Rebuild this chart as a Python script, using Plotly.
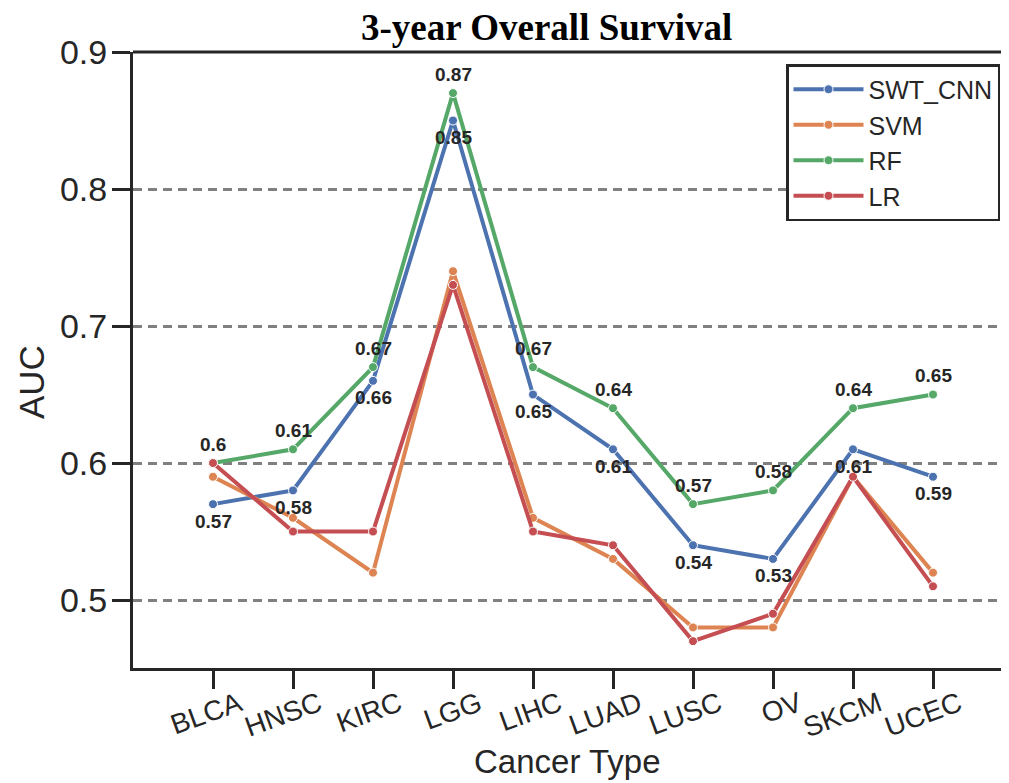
import plotly.graph_objects as go

categories = ["BLCA", "HNSC", "KIRC", "LGG", "LIHC", "LUAD", "LUSC", "OV", "SKCM", "UCEC"]
swt_cnn = [0.57, 0.58, 0.66, 0.85, 0.65, 0.61, 0.54, 0.53, 0.61, 0.59]
svm = [0.59, 0.56, 0.52, 0.74, 0.56, 0.53, 0.48, 0.48, 0.59, 0.52]
rf = [0.60, 0.61, 0.67, 0.87, 0.67, 0.64, 0.57, 0.58, 0.64, 0.65]
lr = [0.60, 0.55, 0.55, 0.73, 0.55, 0.54, 0.47, 0.49, 0.59, 0.51]
y_ticks = [0.5, 0.6, 0.7, 0.8, 0.9]

series = [("SWT_CNN", swt_cnn, "#4C72B0"), ("SVM", svm, "#DD8452"),
          ("RF", rf, "#55A868"), ("LR", lr, "#C44E52")]

# page has an 8px body margin; compensate so the figure lands on the reference pixels
OFF = 8
W, H = 1009 - OFF, 783 - OFF
L, T = 133 - OFF, 52 - OFF
B = H - (668 - OFF)
R = 0
pw = W - L - R
ph = H - T - B


def px(xp):
    return (xp - OFF - L) / pw


def py(yp):
    return (H - B - (yp - OFF)) / ph


fig = go.Figure()
xs = list(range(len(categories)))
for name, vals, col in series:
    fig.add_trace(go.Scatter(
        x=xs, y=vals, name=name, mode="lines+markers",
        line=dict(color=col, width=4),
        marker=dict(size=9, color=col, line=dict(color="white", width=1)),
    ))

ann = []
for i, v in enumerate(rf):
    ann.append(dict(x=i, y=v, xref="x", yref="y", text=f"<b>{v:g}</b>", showarrow=False,
                    yshift=19, font=dict(family="Liberation Sans", size=19, color="#262626")))
for i, v in enumerate(swt_cnn):
    ann.append(dict(x=i, y=v, xref="x", yref="y", text=f"<b>{v:g}</b>", showarrow=False,
                    yshift=-17, font=dict(family="Liberation Sans", size=19, color="#262626")))

ann.append(dict(x=px(546), y=py(27), xref="paper", yref="paper",
                text="<b>3-year Overall Survival</b>", showarrow=False,
                xanchor="center", yanchor="middle",
                font=dict(family="Liberation Serif", size=37, color="black")))
ann.append(dict(x=px(567), y=py(761), xref="paper", yref="paper",
                text="Cancer Type", showarrow=False, xanchor="center", yanchor="middle",
                font=dict(family="Liberation Sans", size=33, color="#262626")))
ann.append(dict(x=px(31), y=py(382), xref="paper", yref="paper",
                text="AUC", showarrow=False, textangle=-90, xanchor="center", yanchor="middle",
                font=dict(family="Liberation Sans", size=35, color="#262626")))

fig.update_layout(
    width=W, height=H,
    margin=dict(l=L, r=R, t=T, b=B, pad=0, autoexpand=False),
    paper_bgcolor="white", plot_bgcolor="white",
    showlegend=True,
    legend=dict(x=px(1000), y=py(64), xanchor="right", yanchor="top",
                bordercolor="#262626", borderwidth=2.5, bgcolor="white",
                font=dict(family="Liberation Sans", size=25, color="#262626"),
                itemwidth=70),
    annotations=ann,
    xaxis=dict(range=[-1, -1 + pw / 80], tickmode="array", tickvals=xs,
               ticktext=categories, tickangle=-20, showgrid=False, zeroline=False,
               showline=True, linecolor="#262626", linewidth=3, automargin=False,
               ticks="outside", ticklen=18, tickwidth=3, tickcolor="#262626",
               ticklabelshift=26, ticklabelstandoff=-12,
               tickfont=dict(family="Liberation Sans", size=28, color="#262626")),
    yaxis=dict(range=[0.4504, 0.9], tickmode="array", tickvals=y_ticks,
               ticktext=[f"{t:g}" for t in y_ticks], automargin=False,
               showgrid=True, gridcolor="#808080", gridwidth=2.5, griddash="9px,6px",
               zeroline=False, showline=True, linecolor="#262626", linewidth=3,
               ticks="outside", ticklen=18, tickwidth=3, tickcolor="#262626",
               ticklabelstandoff=-2,
               tickfont=dict(family="Liberation Sans", size=34, color="#262626")),
    shapes=[dict(type="line", xref="paper", yref="paper", x0=0, x1=1, y0=1, y1=1,
                 line=dict(color="#262626", width=3), layer="above")],
)

fig.write_html("out.html")
